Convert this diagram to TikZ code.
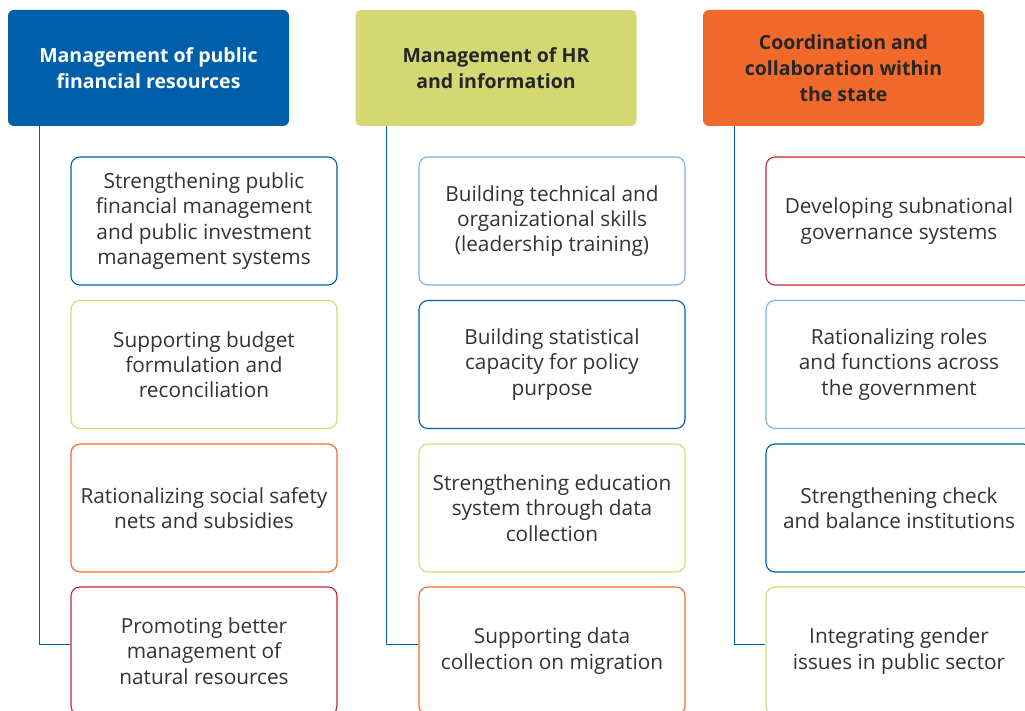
\documentclass[tikz,border=0pt]{standalone}
\usepackage{fontspec}
\setmainfont{Open Sans}
\usepackage{tikz}

\definecolor{wbblue}{HTML}{005FAA}
\definecolor{wblight}{HTML}{7FB0E0}
\definecolor{wbolive}{HTML}{D4D873}
\definecolor{wborange}{HTML}{F26A2B}
\definecolor{wbred}{HTML}{C1272D}
\definecolor{wbtext}{HTML}{333333}

\begin{document}
\begin{tikzpicture}[x=1pt,y=-1pt]
		\tikzset{head/.style={rounded corners=6, minimum width=281, minimum height=116, align=center, font=\fontsize{19.5}{26}\selectfont\bfseries},
		task/.style={draw=#1, line width=1.1pt, rounded corners=9, fill=white, minimum width=266, minimum height=128, align=center, text=wbtext, font=\fontsize{20.8}{25.3}\selectfont},
		link/.style={wbblue, line width=1pt}};
		\clip (0,0) rectangle (1025,711);
		% column headers
		\node[head, fill=wbblue, text=white] (h1) at (148.5,68) {Management of public\\financial resources};
		\node[head, fill=wbolive, text=black!85] (h2) at (496,68) {Management of HR\\and information};
		\node[head, fill=wborange, text=black!85] (h3) at (843.5,68) {Coordination and\\collaboration within\\the state};
		% public financial resources
		\node[task=wbblue] (a1) at (204,221) {Strengthening public\\financial management\\and public investment\\management systems};
		\node[task=wbolive] (a2) at (204,364.5) {Supporting budget\\formulation and\\reconciliation};
		\node[task=wborange] (a3) at (204,508) {Rationalizing social safety\\nets and subsidies};
		\node[task=wbred] (a4) at (204,651) {Promoting better\\management of\\natural resources};
		% HR and information
		\node[task=wblight] (b1) at (552,221) {Building technical and\\organizational skills\\(leadership training)};
		\node[task=wbblue] (b2) at (552,364.5) {Building statistical\\capacity for policy\\purpose};
		\node[task=wbolive] (b3) at (552,508) {Strengthening education\\system through data\\collection};
		\node[task=wborange] (b4) at (552,651) {Supporting data\\collection on migration};
		% coordination within the state
		\node[task=wbred] (c1) at (899,221) {Developing subnational\\governance systems};
		\node[task=wblight] (c2) at (899,364.5) {Rationalizing roles\\and functions across\\the government};
		\node[task=wbblue] (c3) at (899,508) {Strengthening check\\and balance institutions};
		\node[task=wbolive] (c4) at (899,651) {Integrating gender\\issues in public sector};
		% connectors
		\draw[link] (h1.south west) ++(32,0) |- ([yshift=7pt]a4.west);
		\draw[link] (h2.south west) ++(31,0) |- ([yshift=7pt]b4.west);
		\draw[link] (h3.south west) ++(32,0) |- ([yshift=7pt]c4.west);
	\end{tikzpicture}
\end{document}
